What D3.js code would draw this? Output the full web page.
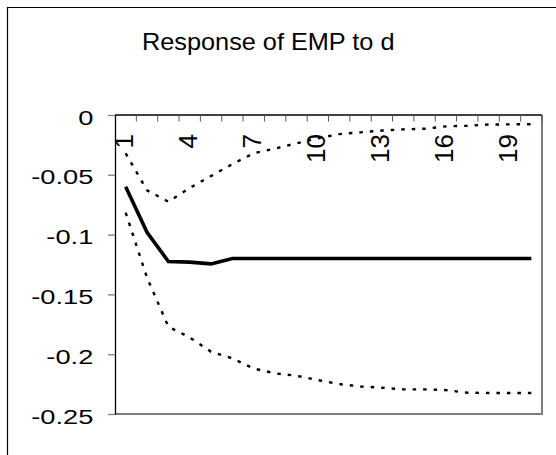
<!DOCTYPE html>
<html>
<head>
<meta charset="utf-8">
<script src="https://cdn.jsdelivr.net/npm/d3@7"></script>
<style>
  html, body { margin: 0; padding: 0; background: #fff; }
  svg { display: block; }
  text { font-family: Arial, "Liberation Sans", sans-serif; fill: #000; }
</style>
</head>
<body>
<svg id="chart" width="556" height="455"></svg>
<script>
// Impulse response periods
const periods = d3.range(1, 21);
const periodLabels = ["1", "4", "7", "10", "13", "16", "19"];

// Point response of EMP to a shock in d
const response = [-0.060, -0.098, -0.1225, -0.123, -0.1245, -0.120, -0.120, -0.120, -0.120, -0.120,
                  -0.120, -0.120, -0.120, -0.120, -0.120, -0.120, -0.120, -0.120, -0.120, -0.120];
// Upper confidence band
const upperBand = [-0.032, -0.063, -0.0725, -0.061, -0.051, -0.041, -0.032, -0.028, -0.0237, -0.0195,
                   -0.016, -0.0145, -0.013, -0.012, -0.0115, -0.0095, -0.009, -0.008, -0.0078, -0.0077];
// Lower confidence band
const lowerBand = [-0.0817, -0.136, -0.177, -0.186, -0.198, -0.2035, -0.212, -0.216, -0.218, -0.2216,
                   -0.225, -0.227, -0.228, -0.2294, -0.2294, -0.230, -0.2322, -0.2324, -0.2324, -0.2324];

const yTicks = [0, -0.05, -0.1, -0.15, -0.2, -0.25];

const svg = d3.select("#chart");
const plot = { left: 115, right: 542, top: 115, bottom: 414 };

// Outer chart frame (continues past the right/bottom edge)
svg.append("path")
  .attr("d", "M7.5,460 V7.5 H560")
  .attr("fill", "none")
  .attr("stroke", "#000")
  .attr("stroke-width", 1.2);

// Title
svg.append("text")
  .attr("transform", "translate(142,50) scale(1.1,1)")
  .attr("font-size", 23)
  .text("Response of EMP to d");

const x = d3.scaleBand()
  .domain(periods.map(String))
  .range([plot.left, plot.right])
  .paddingInner(0).paddingOuter(0);
const cx = p => x(String(p)) + x.bandwidth() / 2;

const y = d3.scaleLinear().domain([-0.25, 0]).range([plot.bottom, plot.top]);

// Plot area border: right and bottom edges
svg.append("path")
  .attr("d", `M${plot.left},${plot.bottom} H${plot.right} V${plot.top}`)
  .attr("fill", "none")
  .attr("stroke", "#7f7f7f")
  .attr("stroke-width", 2);

// Y axis
const yAxis = svg.append("g")
  .attr("transform", `translate(${plot.left},0)`)
  .call(d3.axisLeft(y).tickValues(yTicks)
    .tickFormat(d => d === 0 ? "0" : String(d))
    .tickSize(7).tickSizeOuter(0));
yAxis.select(".domain").attr("stroke", "#000").attr("stroke-width", 1.3);
yAxis.selectAll(".tick line").attr("stroke", "#7f7f7f").attr("stroke-width", 1.3);
yAxis.selectAll(".tick text")
  .attr("x", null).attr("dy", "0.44em")
  .attr("transform", "translate(-21.7,0) scale(1.33,1)")
  .attr("text-anchor", "end")
  .attr("font-size", 20.5)
  .attr("font-family", "Arial, 'Liberation Sans', sans-serif")
  .attr("fill", "#000");

// X axis along the zero line, ticks on period boundaries
svg.append("line")
  .attr("x1", plot.left).attr("x2", plot.right)
  .attr("y1", y(0)).attr("y2", y(0))
  .attr("stroke", "#000").attr("stroke-width", 1.3);
svg.append("g").selectAll("line")
  .data(periods.slice(1).concat([21]))
  .join("line")
  .attr("x1", p => p <= 20 ? x(String(p)) : plot.right)
  .attr("x2", p => p <= 20 ? x(String(p)) : plot.right)
  .attr("y1", y(0)).attr("y2", y(0) + 6.5)
  .attr("stroke", "#555").attr("stroke-width", 1);

const xAxis = svg.append("g")
  .attr("transform", `translate(0,${y(0)})`)
  .call(d3.axisBottom(x).tickValues(periodLabels).tickSize(0));
xAxis.select(".domain").remove();
xAxis.selectAll(".tick text")
  .attr("x", null).attr("y", null).attr("dy", null)
  .attr("transform", "translate(7,19) rotate(-90)")
  .attr("text-anchor", "end")
  .attr("font-size", 26)
  .attr("font-family", "Arial, 'Liberation Sans', sans-serif")
  .attr("fill", "#000");

// Series
const line = d3.line().x((d, i) => cx(periods[i])).y(d => y(d));

svg.append("path").datum(upperBand)
  .attr("d", line).attr("fill", "none")
  .attr("stroke", "#000").attr("stroke-width", 2.4)
  .attr("stroke-dasharray", "3.5,7");

svg.append("path").datum(lowerBand)
  .attr("d", line).attr("fill", "none")
  .attr("stroke", "#000").attr("stroke-width", 2.4)
  .attr("stroke-dasharray", "3.5,7");

svg.append("path").datum(response)
  .attr("d", line).attr("fill", "none")
  .attr("stroke", "#000").attr("stroke-width", 3.6)
  .attr("stroke-linejoin", "miter");
</script>
</body>
</html>
